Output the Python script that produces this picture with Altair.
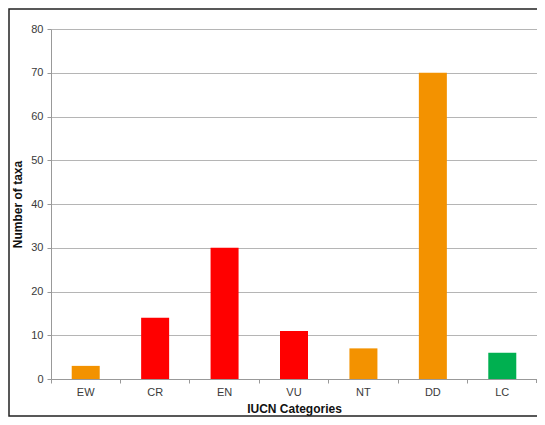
import altair as alt
import pandas as pd

categories = ["EW", "CR", "EN", "VU", "NT", "DD", "LC"]
values = [3, 14, 30, 11, 7, 70, 6]
colors = ["#F39200", "#FF0000", "#FF0000", "#FF0000", "#F39200", "#F39200", "#00B050"]
y_ticks = [0, 10, 20, 30, 40, 50, 60, 70, 80]

df = pd.DataFrame({"cat": categories, "n": values, "color": colors})

W, H = 486, 350
FONT = "Liberation Sans"

bars = alt.Chart(df).mark_bar(size=28).encode(
    x=alt.X(
        "cat:N",
        sort=categories,
        scale=alt.Scale(paddingInner=0, paddingOuter=0),
        axis=alt.Axis(
            title="IUCN Categories",
            labelAngle=0,
            bandPosition=0,
            labelFontSize=11,
            labelColor="#3a3a3a",
            labelFont=FONT,
            labelPadding=3,
            titleFont=FONT,
            titleFontSize=12,
            titleFontWeight="bold",
            titleColor="#111111",
            titlePadding=6,
            domainColor="#999999",
            tickColor="#999999",
            tickSize=4,
            grid=False,
        ),
    ),
    y=alt.Y(
        "n:Q",
        scale=alt.Scale(domain=[0, 80], nice=False),
        axis=alt.Axis(
            title="Number of taxa",
            values=y_ticks,
            labelFontSize=11,
            labelColor="#3a3a3a",
            labelFont=FONT,
            labelPadding=4,
            titleFont=FONT,
            titleFontSize=12,
            titleFontWeight="bold",
            titleColor="#111111",
            titlePadding=6,
            domainColor="#999999",
            tickColor="#999999",
            tickSize=4,
            gridColor="#b5b5b5",
            gridWidth=1.2,
        ),
    ),
    color=alt.Color("color:N", scale=None),
)

end_tick = alt.Chart(alt.Data(values=[{}])).mark_rule(color="#999999").encode(
    x=alt.value(W - 0.5), y=alt.value(H), y2=alt.value(H + 4)
)

border = alt.Chart(alt.Data(values=[{}])).mark_rect(
    fill="white", fillOpacity=0, stroke="#222222", strokeWidth=1.5
).encode(x=alt.value(-42), x2=alt.value(W + 12), y=alt.value(-20), y2=alt.value(H + 37))

chart = alt.layer(bars, end_tick, border).properties(
    width=W,
    height=H,
    autosize=alt.AutoSizeParams(type="none"),
    padding={"left": 43, "top": 21, "right": 0, "bottom": 38},
).configure_view(stroke=None)

chart.save("out.html", embed_options={"renderer": "svg", "actions": False})
